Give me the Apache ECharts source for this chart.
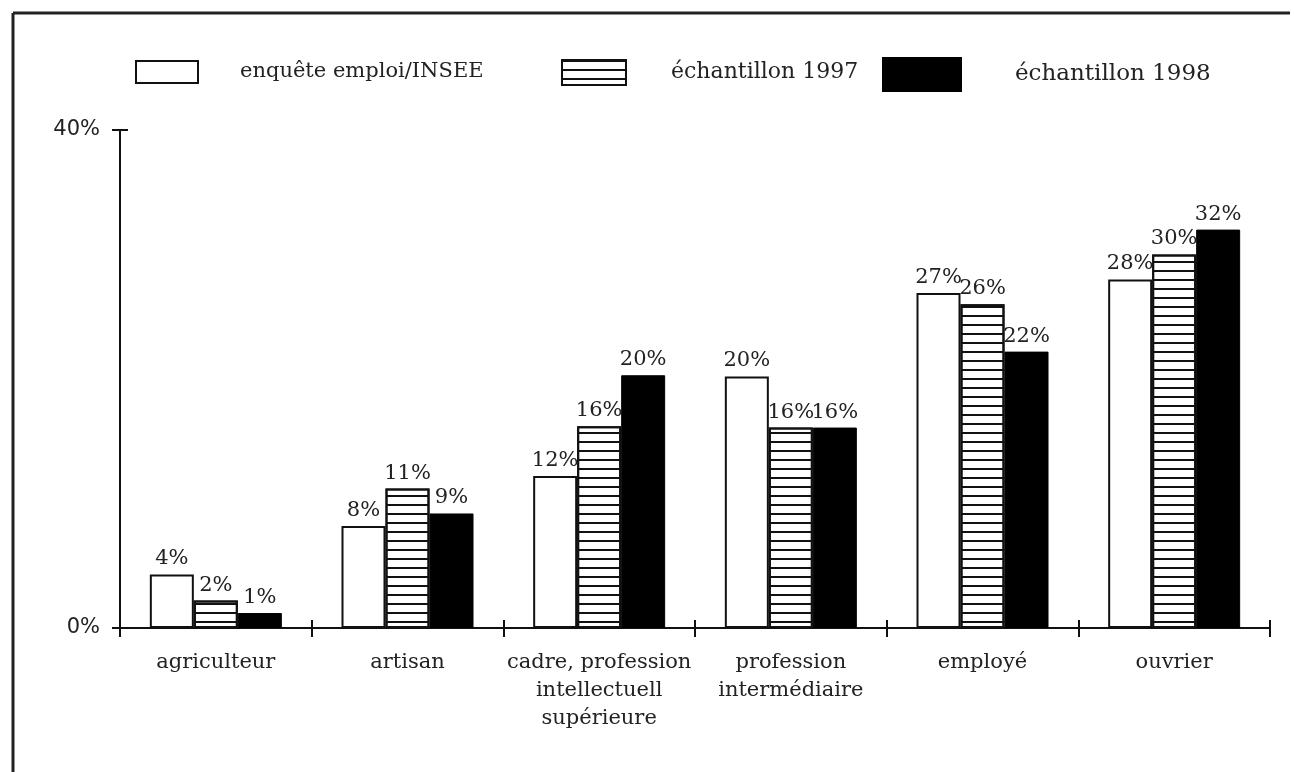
<!DOCTYPE html>
<html>
<head>
<meta charset="utf-8">
<script src="https://cdn.jsdelivr.net/npm/echarts@6/dist/echarts.min.js"></script>
<style>html,body{margin:0;padding:0;background:#fff}#c{width:1294px;height:772px}</style>
</head>
<body>
<div id="c"></div>
<script>
const categories = ['agriculteur', 'artisan', 'cadre, profession\nintellectuell\nsupérieure', 'profession\nintermédiaire', 'employé', 'ouvrier'];
const seriesNames = ['enquête emploi/INSEE', 'échantillon 1997', 'échantillon 1998'];
const insee = [4.3, 8.2, 12.2, 20.2, 26.9, 28.0];
const ech1997 = [2.2, 11.2, 16.2, 16.1, 26.0, 30.0];
const ech1998 = [1.2, 9.2, 20.3, 16.1, 22.2, 32.0];
const yTicks = [0, 40];

const serif = 'DejaVu Serif';
const chart = echarts.init(document.getElementById('c'));

const labelCfg = {
  show: true, position: 'top', distance: 5,
  fontFamily: serif, fontSize: 21, color: '#222',
  formatter: p => Math.round(p.value) + '%'
};

function legendFor(name, left, top, w, h, pad, fs) {
  return {
    data: [name], left: left, top: top, itemWidth: w, itemHeight: h,
    icon: 'rect', selectedMode: false,
    textStyle: { fontFamily: serif, fontSize: fs, color: '#222', padding: [0, 0, 0, pad] }
  };
}

chart.setOption({
  animation: false,
  backgroundColor: '#fff',
  legend: [
    legendFor(seriesNames[0], 130, 55, 62, 22, 37, 21),
    legendFor(seriesNames[1], 556, 54, 64, 25, 40, 22),
    legendFor(seriesNames[2], 877, 52, 78, 33, 49, 23)
  ],
  grid: { left: 120, right: 24, top: 130, bottom: 144 },
  xAxis: [
    {
      type: 'category', data: categories, position: 'bottom',
      axisLine: { lineStyle: { color: '#111', width: 2 } },
      axisTick: { show: true, length: 9, lineStyle: { color: '#111', width: 2 } },
      axisLabel: { fontFamily: serif, fontSize: 21, color: '#222', lineHeight: 28, margin: 21, interval: 0 }
    },
    {
      type: 'category', data: categories, position: 'bottom',
      axisLine: { show: false },
      axisTick: { show: true, inside: true, length: 8, lineStyle: { color: '#111', width: 2 } },
      axisLabel: { show: false }
    }
  ],
  yAxis: [
    {
      type: 'value', min: yTicks[0], max: yTicks[1], interval: 40,
      splitLine: { show: false },
      axisLine: { show: true, lineStyle: { color: '#111', width: 2 } },
      axisTick: { show: true, length: 8, lineStyle: { color: '#111', width: 2 } },
      axisLabel: { fontFamily: 'DejaVu Sans', fontSize: 21, color: '#222', margin: 20, formatter: '{value}%' }
    },
    {
      type: 'value', min: yTicks[0], max: yTicks[1], interval: 40, position: 'left',
      splitLine: { show: false },
      axisLine: { show: false },
      axisTick: { show: true, inside: true, length: 8, lineStyle: { color: '#111', width: 2 } },
      axisLabel: { show: false }
    }
  ],
  series: [
    {
      name: seriesNames[0], type: 'bar', data: insee, barWidth: 44, barGap: '0%',
      itemStyle: { color: '#fff', borderColor: '#111', borderWidth: 2 },
      label: labelCfg
    },
    {
      name: seriesNames[1], type: 'bar', data: ech1997, barWidth: 44, barGap: '0%',
      itemStyle: {
        color: '#fff', borderColor: '#111', borderWidth: 2,
        decal: { symbol: 'rect', symbolSize: 1, dashArrayX: [1, 0], dashArrayY: [2, 7], rotation: 0, color: '#111' }
      },
      label: labelCfg
    },
    {
      name: seriesNames[2], type: 'bar', data: ech1998, barWidth: 44, barGap: '0%',
      itemStyle: { color: '#000', borderColor: '#000', borderWidth: 1 },
      label: labelCfg
    }
  ],
  graphic: [
    { type: 'line', shape: { x1: 13, y1: 13, x2: 1290, y2: 13 }, style: { stroke: '#222', lineWidth: 3 } },
    { type: 'line', shape: { x1: 13, y1: 13, x2: 13, y2: 772 }, style: { stroke: '#222', lineWidth: 3 } }
  ]
});
</script>
</body>
</html>
